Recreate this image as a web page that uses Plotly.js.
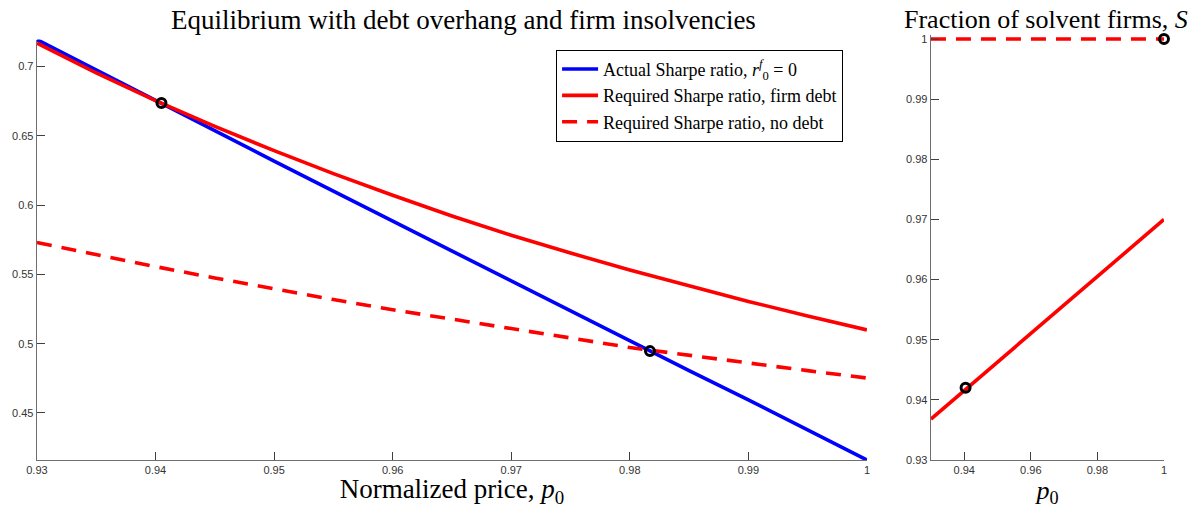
<!DOCTYPE html>
<html>
<head>
<meta charset="utf-8">
<script src="https://cdn.plot.ly/plotly-3.0.1.min.js"></script>
<style>html,body{margin:0;padding:0;background:#fff}#chart{width:1192px;height:508px}</style>
</head>
<body>
<div id="chart"></div>
<script>
// Left panel: price grid and series
const priceGrid = [0.93, 0.935, 0.94, 0.945, 0.95, 0.955, 0.96, 0.965, 0.97, 0.975, 0.98, 0.985, 0.99, 0.995, 1.0];
const actualSharpe = [0.7195, 0.6975, 0.6752, 0.6535, 0.6318, 0.6101, 0.5884, 0.5667, 0.5450, 0.5233, 0.5016, 0.4805, 0.4594, 0.4377, 0.416];
const requiredFirmDebt = [0.717, 0.6954, 0.6754, 0.6568, 0.6393, 0.6228, 0.6071, 0.5922, 0.5783, 0.5654, 0.5532, 0.5416, 0.5305, 0.5200, 0.5099];
const requiredNoDebt = [0.573, 0.5642, 0.5556, 0.5474, 0.5395, 0.5318, 0.5245, 0.5175, 0.5108, 0.5041, 0.4972, 0.4915, 0.4860, 0.4805, 0.4752];
const equilibriumX = [0.9405, 0.9817];
const equilibriumY = [0.6737, 0.4946];

// Right panel: fraction of solvent firms
const solventX = [0.93, 1.0];
const solventDebt = [0.9368, 0.970];
const solventNoDebt = [1.0, 1.0];
const solventPointX = [0.9404, 1.0];
const solventPointY = [0.942, 1.0];

// Tick labels
const leftXTicks = [0.93, 0.94, 0.95, 0.96, 0.97, 0.98, 0.99, 1];
const leftXTickText = ['0.93', '0.94', '0.95', '0.96', '0.97', '0.98', '0.99', '1'];
const leftYTicks = [0.45, 0.5, 0.55, 0.6, 0.65, 0.7];
const leftYTickText = ['0.45', '0.5', '0.55', '0.6', '0.65', '0.7'];
const rightXTicks = [0.94, 0.96, 0.98, 1];
const rightXTickText = ['0.94', '0.96', '0.98', '1'];
const rightYTicks = [0.93, 0.94, 0.95, 0.96, 0.97, 0.98, 0.99, 1];
const rightYTickText = ['0.93', '0.94', '0.95', '0.96', '0.97', '0.98', '0.99', '1'];

const serif = 'Liberation Serif, DejaVu Serif, serif';
const sans = 'Liberation Sans, Arial, sans-serif';
const LW = 3.6;
const DASH = '15px,10px';

const traces = [
  {x: priceGrid, y: actualSharpe, mode: 'lines', line: {color: '#0000ff', width: LW},
   name: 'Actual Sharpe ratio, <i>r</i><sup><i>f</i></sup><sub>0</sub> = 0', xaxis: 'x', yaxis: 'y'},
  {x: priceGrid, y: requiredFirmDebt, mode: 'lines', line: {color: '#ff0000', width: LW},
   name: 'Required Sharpe ratio, firm debt', xaxis: 'x', yaxis: 'y'},
  {x: priceGrid, y: requiredNoDebt, mode: 'lines', line: {color: '#ff0000', width: LW, dash: DASH},
   name: 'Required Sharpe ratio, no debt', xaxis: 'x', yaxis: 'y'},
  {x: equilibriumX, y: equilibriumY, mode: 'markers', showlegend: false, cliponaxis: false,
   marker: {symbol: 'circle-open', size: 9, color: '#000000', line: {width: 3, color: '#000000'}},
   xaxis: 'x', yaxis: 'y'},
  {x: solventX, y: solventNoDebt, mode: 'lines', showlegend: false,
   line: {color: '#ff0000', width: LW, dash: DASH}, xaxis: 'x2', yaxis: 'y2'},
  {x: solventX, y: solventDebt, mode: 'lines', showlegend: false,
   line: {color: '#ff0000', width: LW}, xaxis: 'x2', yaxis: 'y2'},
  {x: solventPointX, y: solventPointY, mode: 'markers', showlegend: false, cliponaxis: false,
   marker: {symbol: 'circle-open', size: 9, color: '#000000', line: {width: 3, color: '#000000'}},
   xaxis: 'x2', yaxis: 'y2'}
];

const axisCommon = {
  showgrid: false, zeroline: false, showline: true, linecolor: '#6e6e6e', linewidth: 1.3,
  ticks: 'inside', ticklen: 8, tickcolor: '#404040', tickwidth: 1,
  tickfont: {family: sans, size: 11, color: '#333333'}, mirror: false
};

const layout = {
  width: 1192, height: 508,
  margin: {l: 0, r: 0, t: 0, b: 0},
  paper_bgcolor: '#ffffff', plot_bgcolor: '#ffffff',
  showlegend: true,
  legend: {
    x: 0.4665, y: 0.902, xanchor: 'left', yanchor: 'top',
    bgcolor: '#ffffff', bordercolor: '#000000', borderwidth: 1,
    font: {family: serif, size: 18, color: '#000000'},
    tracegroupgap: 0, itemwidth: 36
  },
  xaxis: Object.assign({}, axisCommon, {
    domain: [0.031, 0.7273], range: [0.93, 1.0], tickvals: leftXTicks, ticktext: leftXTickText,
    anchor: 'y',
    title: {text: 'Normalized price, <i>p</i><sub>0</sub>', font: {family: serif, size: 27, color: '#000000'}, standoff: 1}
  }),
  yaxis: Object.assign({}, axisCommon, {
    domain: [0.0945, 0.922], range: [0.416, 0.7195], tickvals: leftYTicks, ticktext: leftYTickText,
    anchor: 'x'
  }),
  xaxis2: Object.assign({}, axisCommon, {
    domain: [0.781, 0.9765], range: [0.93, 1.0], tickvals: rightXTicks, ticktext: rightXTickText,
    anchor: 'y2',
    title: {text: '<i>p</i><sub>0</sub>', font: {family: serif, size: 26, color: '#000000'}, standoff: 2}
  }),
  yaxis2: Object.assign({}, axisCommon, {
    domain: [0.0945, 0.9303], range: [0.93, 1.0006], tickvals: rightYTicks, ticktext: rightYTickText,
    anchor: 'x2'
  }),
  annotations: [
    {text: 'Equilibrium with debt overhang and firm insolvencies', xref: 'paper', yref: 'paper',
     x: 0.3885, y: 1.0, xanchor: 'center', yanchor: 'top', yshift: -3, showarrow: false,
     font: {family: serif, size: 27, color: '#000000'}},
    {text: 'Fraction of solvent firms, <i>S</i>', xref: 'paper', yref: 'paper',
     x: 0.8775, y: 1.0, xanchor: 'center', yanchor: 'top', yshift: -3, showarrow: false,
     font: {family: serif, size: 26, color: '#000000'}}
  ]
};

Plotly.newPlot('chart', traces, layout, {displayModeBar: false, staticPlot: true});
</script>
</body>
</html>
